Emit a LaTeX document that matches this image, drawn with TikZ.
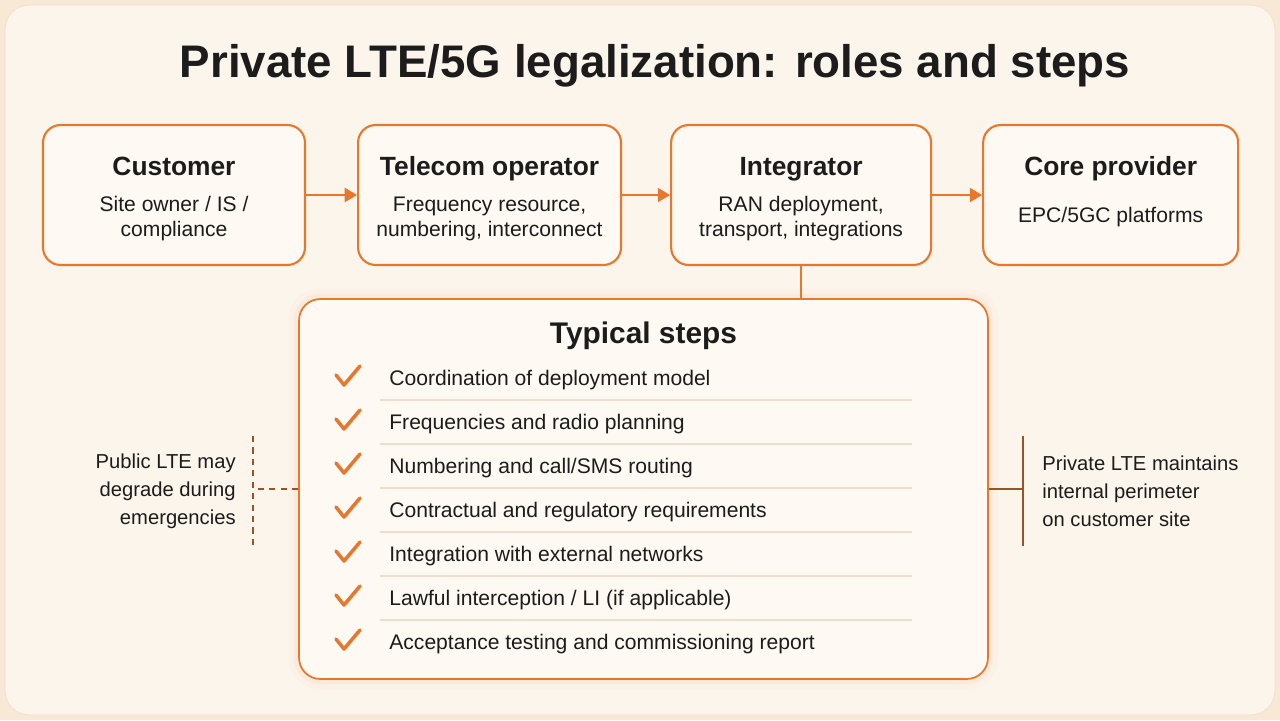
\documentclass[tikz,border=0pt]{standalone}
\usepackage{fontspec}
\setmainfont{Liberation Sans}
\usetikzlibrary{arrows.meta,positioning}
\definecolor{accent}{HTML}{E8772E}
\definecolor{page}{HTML}{F8E8D6}
\definecolor{paper}{HTML}{FCF5EC}
\definecolor{cardfill}{HTML}{FEF9F2}
\definecolor{ink}{HTML}{1C1C1C}
\definecolor{rule}{HTML}{F1DECA}
\definecolor{bark}{HTML}{9B5226}

\begin{document}
\begin{tikzpicture}[x=0.02cm,y=-0.02cm,>={Triangle[length=7pt,width=8pt]},
 role/.style={draw=accent,line width=1.2pt,rounded corners=10pt,fill=cardfill,
  minimum height=2.8cm},
 roletitle/.style={anchor=base,font=\fontsize{15}{18}\selectfont\bfseries,text=ink},
 rolesub/.style={anchor=base,align=center,font=\fontsize{12}{14.2}\selectfont,text=ink},
 link/.style={draw=accent,line width=1.2pt},
 stepsbox/.style={draw=accent,line width=1pt,rounded corners=12pt,fill=cardfill,
  minimum width=13.78cm,minimum height=7.6cm,
  preaction={draw=accent,opacity=0.03,line width=12pt},
  preaction={draw=accent,opacity=0.05,line width=6pt}},
 item/.style={anchor=base west,inner sep=0pt,font=\fontsize{12}{14}\selectfont,text=ink},
 tick/.style={draw=accent,line width=2pt,line cap=round,line join=round},
 note/.style={inner sep=0pt,font=\fontsize{11.5}{16}\selectfont,text=ink},
 notelink/.style={draw=bark,line width=1pt}]
\useasboundingbox (0,0) rectangle (1280,720);
\fill[page] (0,0) rectangle (1280,720);
\draw[fill=paper,draw=rule,rounded corners=14pt] (5,5) rectangle (1275,715);

\node[font=\fontsize{26}{30}\selectfont\bfseries,text=ink] (title) at (655,66)
 {Private LTE/5G legalization: roles and steps};

% roles
\node[role,minimum width=5.24cm] (cust) at (174,195) {};
\node[role,minimum width=5.26cm,right=1.02cm of cust] (oper) {};
\node[role,minimum width=5.2cm,right=0.96cm of oper] (integ) {};
\node[role,minimum width=5.1cm,right=1cm of integ] (core) {};

\node[roletitle] at ([yshift=-1.04cm]cust.north) {Customer};
\node[rolesub] at ([yshift=-2.26cm]cust.north) {Site owner / IS /\\compliance};
\node[roletitle] at ([yshift=-1.04cm]oper.north) {Telecom operator};
\node[rolesub] at ([yshift=-2.26cm]oper.north) {Frequency resource,\\numbering, interconnect};
\node[roletitle] at ([yshift=-1.04cm]integ.north) {Integrator};
\node[rolesub] at ([yshift=-2.26cm]integ.north) {RAN deployment,\\transport, integrations};
\node[roletitle] at ([yshift=-1.04cm]core.north) {Core provider};
\node[rolesub] at ([yshift=-1.98cm]core.north) {EPC/5GC platforms};

\draw[link,->] (cust) -- (oper);
\draw[link,->] (oper) -- (integ);
\draw[link,->] (integ) -- (core);

% steps
\node[stepsbox] (steps) at (643.5,489) {};
\draw[link] (integ.south) -- (integ.south |- steps.north);
\node[anchor=base,font=\fontsize{17}{20}\selectfont\bfseries,text=ink] (stepshead)
 at ([yshift=-0.9cm]steps.north) {Typical steps};

\foreach \t [count=\i] in {Coordination of deployment model,
 Frequencies and radio planning,Numbering and call/SMS routing,
 Contractual and regulatory requirements,Integration with external networks,
 Lawful interception / LI (if applicable),
 Acceptance testing and commissioning report}{
  \node[item] (s\i) at (389,{385+44*(\i-1)}) {\t};
  \draw[tick] ([shift={(-53,-10)}]s\i.base west) -- ++(8,10) -- ++(16,-19);
}
\foreach \i in {1,...,6}
  \draw[rule,line width=0.8pt] (380,{400+44*(\i-1)}) -- (912,{400+44*(\i-1)});

% side notes
\node[note,align=right,anchor=east] (pub) at (236,491)
 {Public LTE may\\degrade during\\emergencies};
\coordinate (lbar) at (253,489);
\coordinate (lbarT) at (253,436);
\coordinate (lbarB) at (253,546);
\draw[notelink,dash pattern=on 3.5pt off 3pt] (lbarT) -- (lbarB);
\draw[notelink,dash pattern=on 3.5pt off 3pt] (steps.west) -- (lbar);

\node[note,align=left,anchor=west] (priv) at (1042,491)
 {Private LTE maintains\\internal perimeter\\on customer site};
\coordinate (rbar) at (1023,489);
\coordinate (rbarT) at (1023,436);
\coordinate (rbarB) at (1023,546);
\draw[notelink,line width=1.2pt] (rbarT) -- (rbarB);
\draw[notelink,line width=1.2pt] (steps.east) -- (rbar);
\end{tikzpicture}
\end{document}
